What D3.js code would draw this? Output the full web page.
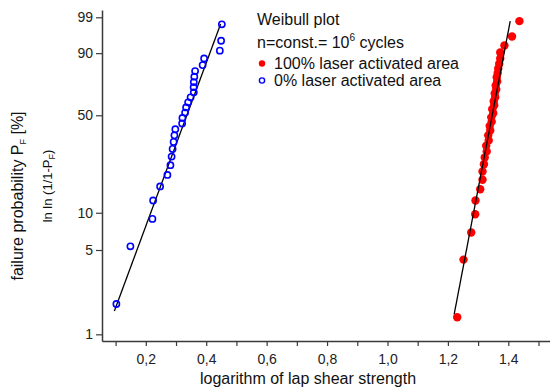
<!DOCTYPE html>
<html>
<head>
<meta charset="utf-8">
<script src="https://cdn.jsdelivr.net/npm/d3@7"></script>
<style>
  html, body { margin: 0; padding: 0; background: #fff; }
  svg { display: block; font-family: "Liberation Sans", Arial, sans-serif; }
</style>
</head>
<body>
<svg id="chart" width="550" height="388"></svg>
<script>
// Weibull plot of lap shear strength, n = const. = 10^6 cycles

// 0% laser activated area: log strength and failure probability (%)
const blueLogStrength = [0.1026, 0.1490, 0.2219, 0.2242, 0.2474, 0.2715, 0.2815, 0.2854, 0.2887, 0.2921,
  0.2947, 0.2977, 0.3202, 0.3212, 0.3301, 0.3334, 0.3401, 0.3483, 0.3589, 0.3583,
  0.3589, 0.3606, 0.3632, 0.3881, 0.3930, 0.4450, 0.4493, 0.4517];
const blueFailurePct = [1.79, 5.36, 8.93, 12.5, 16.07, 19.64, 23.21, 26.79, 30.36, 33.93,
  37.5, 41.07, 44.64, 48.21, 51.79, 55.36, 58.93, 62.5, 66.07, 69.64,
  73.21, 76.79, 80.36, 83.93, 87.5, 91.07, 94.64, 98.21];

// 100% laser activated area
const redLogStrength = [1.2308, 1.2517, 1.2772, 1.2904, 1.2914, 1.3070, 1.3146, 1.3146, 1.3192, 1.3219,
  1.3285, 1.3268, 1.3351, 1.3334, 1.3401, 1.3384, 1.3450, 1.3434, 1.3500, 1.3467,
  1.3533, 1.3517, 1.3566, 1.3550, 1.3600, 1.3583, 1.3632, 1.3616, 1.3649, 1.3666,
  1.3699, 1.3732, 1.3732, 1.3871, 1.4123, 1.4368];
const redFailurePct = [1.39, 4.17, 6.94, 9.72, 12.5, 15.28, 18.06, 20.83, 23.61, 26.39,
  29.17, 31.94, 34.72, 37.5, 40.28, 43.06, 45.83, 48.61, 51.39, 54.17,
  56.94, 59.72, 62.5, 65.28, 68.06, 70.83, 73.61, 76.39, 79.17, 81.94,
  84.72, 87.5, 90.28, 93.06, 95.83, 98.61];

// Fitted Weibull lines: ln ln(1/(1-P)) = shape * (x - logScale), drawn over [from, to]
const blueFitShape = 15.77, blueFitLogScale = 0.3591, blueFitRange = [0.096, 0.4477];
const redFitShape = 30.54, redFitLogScale = 1.3587, redFitRange = [1.2209, 1.4063];

// Axis ticks
const xTicks = [0.1, 0.2, 0.3, 0.4, 0.5, 0.6, 0.7, 0.8, 0.9, 1.0, 1.1, 1.2, 1.3, 1.4, 1.5];
const xLabelled = [0.2, 0.4, 0.6, 0.8, 1.0, 1.2, 1.4];
const yTicksPct = [1, 5, 10, 50, 90, 99];

const weibull = p => Math.log(-Math.log(1 - p / 100));

const svg = d3.select("#chart");
const plotLeft = 102, plotRight = 550, plotTop = 10, plotBottom = 341;

const x = d3.scaleLinear().domain([0.055, 1.538]).range([plotLeft, plotRight]);
const y = d3.scaleLinear().domain([-4.729, 1.668]).range([plotBottom, plotTop]);

const axisColor = "#3a3a3a";
const fontStack = "'Liberation Sans', Arial, sans-serif";

// x axis
const xAxis = d3.axisBottom(x)
  .tickValues(xTicks)
  .tickSize(5)
  .tickSizeOuter(0)
  .tickPadding(8)
  .tickFormat(d => xLabelled.some(v => Math.abs(v - d) < 1e-9) ? d3.format(".1f")(d).replace(".", ",") : "");
const gx = svg.append("g").attr("transform", `translate(0,${plotBottom})`).call(xAxis);
gx.select(".domain").attr("stroke", axisColor).attr("stroke-width", 1.5);
gx.selectAll(".tick line").attr("stroke", axisColor).attr("stroke-width", 1.2);
gx.selectAll(".tick text").attr("fill", "#222").style("font-size", "14px").style("font-family", fontStack);

// y axis on Weibull scale
const yAxis = d3.axisLeft(y)
  .tickValues(yTicksPct.map(weibull))
  .tickSize(6)
  .tickSizeOuter(0)
  .tickPadding(3)
  .tickFormat((d, i) => String(yTicksPct[i]));
const gy = svg.append("g").attr("transform", `translate(${plotLeft},0)`).call(yAxis);
gy.select(".domain").attr("stroke", axisColor).attr("stroke-width", 1.5);
gy.selectAll(".tick line").attr("stroke", axisColor).attr("stroke-width", 1.2);
gy.selectAll(".tick text").attr("fill", "#222").style("font-size", "14px").style("font-family", fontStack);

// axis titles
svg.append("text")
  .attr("x", 308).attr("y", 384)
  .attr("text-anchor", "middle")
  .style("font-size", "16px").attr("fill", "#111")
  .text("logarithm of lap shear strength");

const yt = svg.append("text")
  .attr("transform", "translate(23,196) rotate(-90)")
  .attr("text-anchor", "middle")
  .style("font-size", "16px").attr("fill", "#111");
yt.append("tspan").text("failure probability P");
yt.append("tspan").attr("dy", 3).style("font-size", "9px").text("F");
yt.append("tspan").attr("dy", -3).text(" [%]");

const yt2 = svg.append("text")
  .attr("transform", "translate(52,186) rotate(-90)")
  .attr("text-anchor", "middle")
  .style("font-size", "13px").attr("fill", "#111");
yt2.append("tspan").text("ln ln (1/1-P");
yt2.append("tspan").attr("dy", 3).style("font-size", "9px").text("F");
yt2.append("tspan").attr("dy", -3).text(")");

// fitted lines
const fitLine = (shape, logScale, range) =>
  range.map(xv => [x(xv), y(shape * (xv - logScale))]);

svg.append("path")
  .attr("d", d3.line()(fitLine(blueFitShape, blueFitLogScale, blueFitRange)))
  .attr("stroke", "#000").attr("stroke-width", 1.3).attr("fill", "none");

// data points
svg.append("g").selectAll("circle")
  .data(blueLogStrength.map((v, i) => [v, blueFailurePct[i]]))
  .join("circle")
  .attr("cx", d => x(d[0])).attr("cy", d => y(weibull(d[1])))
  .attr("r", 3.1)
  .attr("fill", "none").attr("stroke", "#0000ff").attr("stroke-width", 1.6);

svg.append("g").selectAll("circle")
  .data(redLogStrength.map((v, i) => [v, redFailurePct[i]]))
  .join("circle")
  .attr("cx", d => x(d[0])).attr("cy", d => y(weibull(d[1])))
  .attr("r", 4.2)
  .attr("fill", "#ff0000");

svg.append("path")
  .attr("d", d3.line()(fitLine(redFitShape, redFitLogScale, redFitRange)))
  .attr("stroke", "#000").attr("stroke-width", 1.3).attr("fill", "none");

// legend
const lg = svg.append("g").style("font-size", "16px").attr("fill", "#111");
lg.append("text").attr("x", 257).attr("y", 25).text("Weibull plot");
const l2 = lg.append("text").attr("x", 257).attr("y", 48);
l2.append("tspan").text("n=const.= 10");
l2.append("tspan").attr("dy", -7).style("font-size", "10px").text("6");
l2.append("tspan").attr("dy", 7).text(" cycles");
lg.append("circle").attr("cx", 262).attr("cy", 63.5).attr("r", 3.2).attr("fill", "#ff0000");
lg.append("text").attr("x", 274).attr("y", 69).text("100% laser activated area");
lg.append("circle").attr("cx", 262).attr("cy", 80.5).attr("r", 2.6)
  .attr("fill", "none").attr("stroke", "#0000ff").attr("stroke-width", 1.4);
lg.append("text").attr("x", 274).attr("y", 86).text("0% laser activated area");
</script>
</body>
</html>
